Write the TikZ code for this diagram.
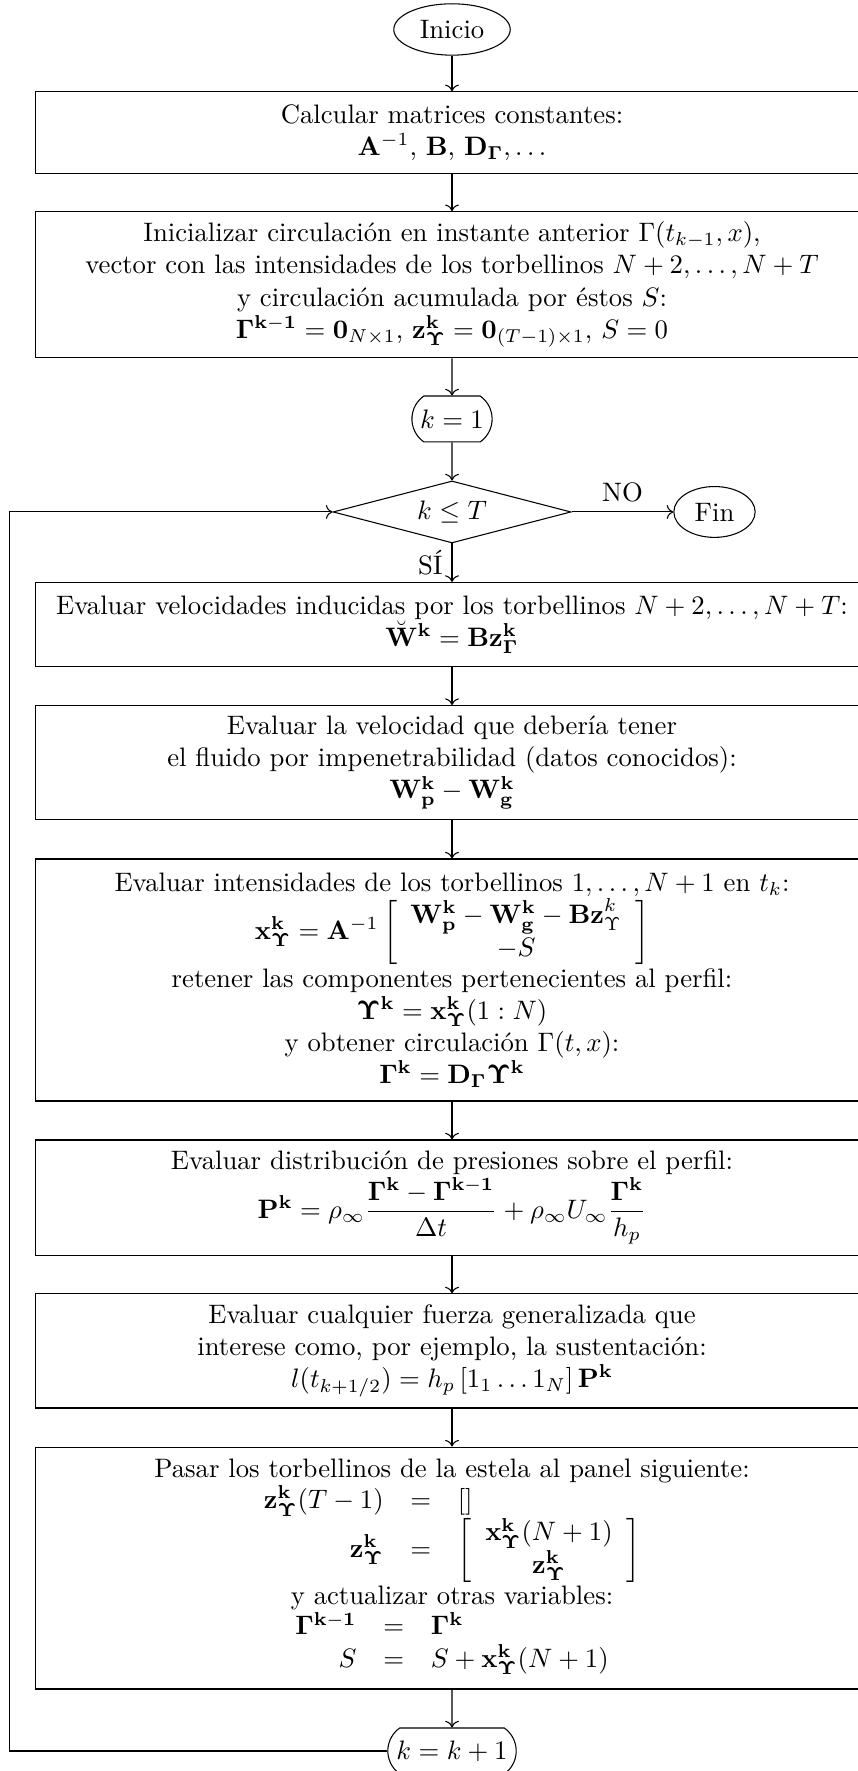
\documentclass[tikz,border=0pt]{standalone}
\usepackage{amsmath}
\usetikzlibrary{shapes.geometric, shapes.misc, arrows.meta}
\tikzset{
    block/.style={draw, text width=10.72cm, align=flush center},
    terminal/.style={draw, ellipse},
    counter/.style={draw, rounded rectangle, rounded rectangle arc length=110, inner xsep=2.5pt, minimum height=0.605cm},
    decision/.style={draw, diamond, aspect=3.8, minimum width=3.133cm, minimum height=0.816cm, inner sep=0pt},
}

\begin{document}
\begin{tikzpicture}
    \useasboundingbox (-5.950,0) rectangle (5.344,-23.312);

    \node[terminal] (inicio) at (0,-0.388) {Inicio};

    \node[block, minimum height=1.070cm] (calc) at (0,-1.743)
        {Calcular matrices constantes:\\
         $\mathbf{A}^{-1}$, $\mathbf{B}$, $\mathbf{D}_{\mathbf{\Gamma}}, \ldots$};

    \node[block, minimum height=1.924cm] (init) at (0,-3.748)
        {Inicializar circulación en instante anterior $\Gamma(t_{k-1},x)$,\\
         vector con las intensidades de los torbellinos $N+2,\ldots,N+T$\\
         y circulación acumulada por éstos $S$:\\
         $\mathbf{\Gamma^{k-1}} = \mathbf{0}_{N\times 1}$, $\mathbf{z^k_\Upsilon} = \mathbf{0}_{(T-1)\times 1}$, $S=0$};

    \node[counter] (kini) at (0,-5.515) {$k=1$};

    \node[decision] (cond) at (0,-6.739) {$k\leq T$};

    \node[terminal] (fin) at (3.455,-6.739) {Fin};

    \node[block, minimum height=1.106cm] (vind) at (0,-8.220)
        {Evaluar velocidades inducidas por los torbellinos $N+2,\ldots,N+T$:\\
         $\breve{\mathbf{W}}^{\mathbf{k}} = \mathbf{Bz^k_\Gamma}$};

    \node[block, minimum height=1.501cm] (vimp) at (0,-10.038)
        {Evaluar la velocidad que debería tener\\
         el fluido por impenetrabilidad (datos conocidos):\\
         $\mathbf{W^k_p} - \mathbf{W^k_g}$};

    \node[block, minimum height=3.185cm] (inten) at (0,-12.900)
        {Evaluar intensidades de los torbellinos $1,\ldots,N+1$ en $t_k$:\\
         $\mathbf{x^k_\Upsilon} = \mathbf{A}^{-1}\left[\begin{array}{c}
            \mathbf{W^k_p} - \mathbf{W^k_g} - \mathbf{Bz}^k_\Upsilon\\ -S
         \end{array}\right]$\\
         retener las componentes pertenecientes al perfil:\\
         $\mathbf{\Upsilon^k} = \mathbf{x^k_\Upsilon}(1:N)$\\
         y obtener circulación $\Gamma(t,x)$:\\
         $\mathbf{\Gamma^k} = \mathbf{D_\Gamma \Upsilon^k}$};

    \node[block, minimum height=1.519cm] (pres) at (0,-15.765)
        {Evaluar distribución de presiones sobre el perfil:\\
         $\mathbf{P^k} = \rho_\infty \dfrac{\mathbf{\Gamma^k} - \mathbf{\Gamma^{k-1}}}{\Delta t}
          + \rho_\infty U_\infty \dfrac{\mathbf{\Gamma^k}}{h_p}$};

    \node[block, minimum height=1.501cm] (fuerza) at (0,-17.783)
        {Evaluar cualquier fuerza generalizada que\\
         interese como, por ejemplo, la sustentación:\\
         $l(t_{k+1/2}) = h_p\,[1_1\ldots 1_N]\,\mathbf{P^k}$};

    \node[block, minimum height=3.185cm] (estela) at (0,-20.640)
        {Pasar los torbellinos de la estela al panel siguiente:\\
         $\begin{array}{rcl}
            \mathbf{z^k_\Upsilon}(T-1) & = & []\\
            \mathbf{z^k_\Upsilon} & = & \left[\begin{array}{c}
                \mathbf{x^k_\Upsilon}(N+1)\\ \mathbf{z^k_\Upsilon}
            \end{array}\right]
         \end{array}$\\
         y actualizar otras variables:\\
         $\begin{array}{rcl}
            \mathbf{\Gamma^{k-1}} & = & \mathbf{\Gamma^k}\\
            S & = & S + \mathbf{x^k_\Upsilon}(N+1)
         \end{array}$};

    \node[counter] (knext) at (0,-23.048) {$k=k+1$};

    \coordinate (loop) at (-5.827,-23.048);

    % main column
    \draw[->] (inicio) -- (calc);
    \draw[->] (calc) -- (init);
    \draw[->] (init) -- (kini);
    \draw[->] (kini) -- (cond);
    \draw[->] (cond) -- node[above] {NO} (fin);
    \draw[->] (cond) -- node[left] {SÍ} (vind);
    \draw[->] (vind) -- (vimp);
    \draw[->] (vimp) -- (inten);
    \draw[->] (inten) -- (pres);
    \draw[->] (pres) -- (fuerza);
    \draw[->] (fuerza) -- (estela);
    \draw[->] (estela) -- (knext);

    % back to the test
    \draw[->] (knext.west) -- (loop) |- (cond.west);
\end{tikzpicture}
\end{document}
